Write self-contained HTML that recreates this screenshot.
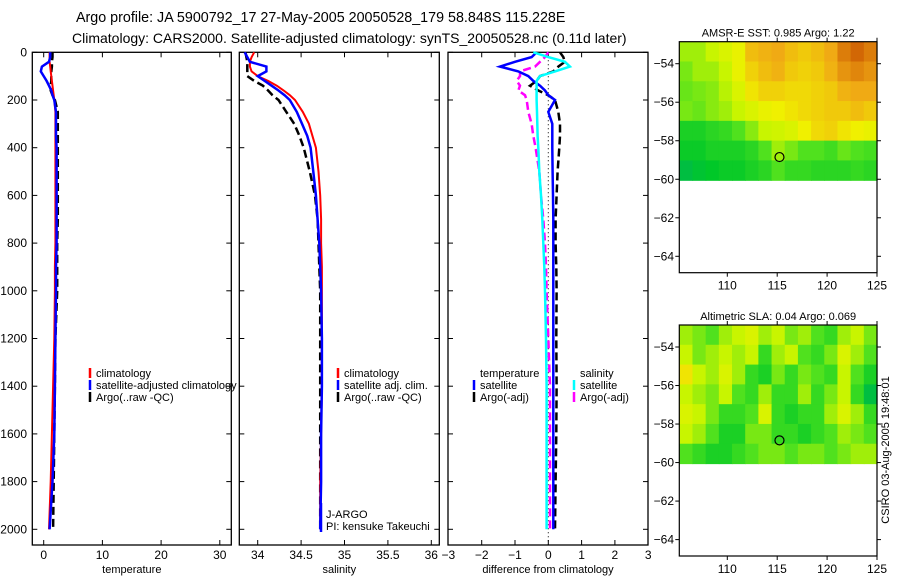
<!DOCTYPE html>
<html><head><meta charset="utf-8"><style>
body{margin:0;background:#fff;width:900px;height:580px;overflow:hidden}
svg{font-family:"Liberation Sans",sans-serif}
text{fill:#000}
</style></head><body>
<svg id="c" width="900" height="580" viewBox="0 0 900 580">
<text x="76" y="22" font-size="14.3">Argo profile: JA 5900792_17 27-May-2005 20050528_179 58.848S 115.228E</text>
<text x="72" y="43" font-size="14">Climatology: CARS2000. Satellite-adjusted climatology: synTS_20050528.nc (0.11d later)</text>
<g id="g"></g>
</svg>
<script>
const depths=[0,20,40,60,80,100,120,140,160,180,200,250,300,350,400,500,600,700,800,900,1000,1200,1400,1600,1800,2000];
const tempClim=[1.0,1.0,1.0,1.1,1.2,1.3,1.4,1.5,1.6,1.7,1.8,2.0,2.0,2.0,2.0,2.0,2.0,2.0,2.0,1.9,1.9,1.8,1.6,1.4,1.2,0.9];
const tempSat=[1.1,1.1,0.9,-0.3,-0.5,0.0,0.5,0.9,1.3,1.5,1.8,2.1,2.1,2.1,2.2,2.2,2.2,2.2,2.2,2.1,2.1,2.0,1.9,1.8,1.5,1.0];
const tempArgo=[1.5,1.5,1.4,1.4,1.3,1.3,1.3,1.2,1.2,1.5,1.9,2.4,2.4,2.4,2.4,2.4,2.4,2.4,2.3,2.3,2.3,2.0,1.9,1.8,1.7,1.6];
const salClim=[33.96,33.93,33.91,33.91,33.93,34.0,34.12,34.22,34.3,34.37,34.43,34.52,34.59,34.63,34.67,34.7,34.72,34.73,34.73,34.74,34.74,34.74,34.74,34.73,34.72,34.72];
const salSat=[33.85,33.88,33.91,34.1,34.1,34.0,34.08,34.16,34.24,34.31,34.37,34.45,34.51,34.57,34.61,34.64,34.67,34.69,34.71,34.72,34.73,34.74,34.74,34.73,34.73,34.72];
const salArgo=[33.86,33.87,33.88,33.88,33.88,33.88,33.96,34.06,34.12,34.17,34.24,34.33,34.42,34.48,34.53,34.6,34.66,34.69,34.7,34.71,34.72,34.72,34.72,34.72,34.72,34.72];
const diffTempSat=[-0.35,-0.5,-1.0,-1.45,-0.9,-0.6,-0.45,-0.25,-0.1,0.0,0.2,0.0,0.12,0.12,0.12,0.13,0.14,0.15,0.15,0.15,0.15,0.15,0.15,0.15,0.15,0.15];
const diffTempArgo=[0.35,0.45,0.5,0.3,0.15,-0.25,-0.35,-0.55,-0.3,0.0,0.2,0.3,0.35,0.35,0.33,0.28,0.25,0.22,0.22,0.24,0.25,0.24,0.25,0.24,0.22,0.2];
const diffSalSat=[-0.45,0.0,0.5,0.65,0.2,-0.25,-0.35,-0.35,-0.35,-0.35,-0.35,-0.34,-0.33,-0.32,-0.3,-0.27,-0.22,-0.18,-0.15,-0.12,-0.1,-0.07,-0.05,-0.05,-0.05,-0.05];
const diffSalArgo=[0.0,-0.1,-0.25,-0.4,-0.85,-0.85,-0.95,-0.85,-0.9,-0.7,-0.65,-0.6,-0.5,-0.45,-0.38,-0.27,-0.22,-0.15,-0.1,-0.07,-0.05,0.0,0.05,0.05,0.05,0.05];
const depthTicks=[0,200,400,600,800,1000,1200,1400,1600,1800,2000];
const tempTicks=[0,10,20,30];
const salTicks=["34","34.5","35","35.5","36"];
const diffTicks=[-3,-2,-1,0,1,2,3];
const mapLonTicks=[110,115,120,125];
const mapLatTicks=[-54,-56,-58,-60,-62,-64];
const sstGrid=[
[0.45,0.45,0.5,0.55,0.6,0.75,0.78,0.8,0.75,0.72,0.75,0.8,0.9,0.95,0.9],
[0.4,0.45,0.45,0.5,0.6,0.7,0.75,0.78,0.72,0.7,0.72,0.78,0.85,0.88,0.85],
[0.38,0.4,0.42,0.48,0.55,0.65,0.7,0.7,0.68,0.68,0.7,0.72,0.78,0.8,0.8],
[0.4,0.38,0.42,0.45,0.5,0.55,0.6,0.62,0.65,0.68,0.7,0.72,0.72,0.75,0.72],
[0.25,0.25,0.28,0.3,0.35,0.42,0.5,0.52,0.55,0.62,0.68,0.7,0.65,0.62,0.6],
[0.22,0.22,0.25,0.25,0.25,0.28,0.35,0.45,0.4,0.35,0.35,0.32,0.38,0.35,0.33],
[0.15,0.18,0.2,0.22,0.22,0.25,0.28,0.35,0.3,0.3,0.28,0.28,0.28,0.3,0.28]];
const slaGrid=[
[0.45,0.4,0.35,0.45,0.5,0.55,0.45,0.5,0.4,0.45,0.35,0.3,0.45,0.5,0.4],
[0.5,0.4,0.45,0.5,0.45,0.5,0.3,0.45,0.5,0.35,0.3,0.4,0.55,0.45,0.35],
[0.65,0.5,0.45,0.55,0.45,0.3,0.25,0.4,0.3,0.4,0.35,0.3,0.5,0.35,0.25],
[0.5,0.45,0.4,0.5,0.35,0.3,0.45,0.3,0.3,0.45,0.3,0.4,0.5,0.3,0.15],
[0.55,0.5,0.4,0.3,0.3,0.35,0.55,0.3,0.25,0.3,0.3,0.45,0.55,0.45,0.3],
[0.5,0.45,0.35,0.25,0.25,0.4,0.4,0.3,0.3,0.25,0.3,0.35,0.45,0.4,0.35],
[0.35,0.3,0.25,0.25,0.3,0.35,0.4,0.4,0.35,0.4,0.4,0.35,0.4,0.45,0.45]];
const floatLon=115.228, floatLat=-58.848;

const NS='http://www.w3.org/2000/svg';
const G=document.getElementById('g');
function mk(tag,attrs,parent){const e=document.createElementNS(NS,tag);for(const k in attrs)e.setAttribute(k,attrs[k]);(parent||G).appendChild(e);return e;}
function txt(s,attrs){const e=mk('text',attrs);e.textContent=s;return e;}
const yD=d=>52.3+d*0.2385;
const TOP=52.3,BOT=545;

const panels=[
 {name:'temperature',x0:32.3,x1:231.3,fx:v=>43.7+v*5.87,ticks:tempTicks,label:'temperature'},
 {name:'salinity',x0:239.3,x1:439.3,fx:v=>257.7+(v-34)*86.8,ticks:salTicks,label:'salinity'},
 {name:'difference',x0:448,x1:648,fx:v=>548.3+v*33.3,ticks:diffTicks,label:'difference from climatology'}];

panels.forEach((p,i)=>{
 const r=mk('rect',{x:p.x0,y:TOP,width:p.x1-p.x0,height:BOT-TOP,fill:'none',stroke:'#000','stroke-width':1.3});
 
 
 p.ticks.forEach(t=>{const x=p.fx(+t);
  if(x>p.x0+2&&x<p.x1-1){mk('line',{x1:x,x2:x,y1:TOP,y2:TOP+5,stroke:'#000'});mk('line',{x1:x,x2:x,y1:BOT,y2:BOT-5,stroke:'#000'});}
  const tl=txt(String(t).replace('-','\u2212'),{x:x,y:559,'font-size':12,'text-anchor':'middle'});
  
  
 });
 depthTicks.forEach(d=>{const y=yD(d);
  mk('line',{x1:p.x0,x2:p.x0+5,y1:y,y2:y,stroke:'#000'});mk('line',{x1:p.x1,x2:p.x1-5,y1:y,y2:y,stroke:'#000'});
  if(i===0){const tl=txt(String(d),{x:27,y:y+4,'font-size':12,'text-anchor':'end'});
   
   }
 });
 const at=txt(p.label,{x:(p.x0+p.x1)/2,y:573,'font-size':11,'text-anchor':'middle'});
 
 
});
mk('line',{x1:548.3,x2:548.3,y1:TOP,y2:BOT,stroke:'#000','stroke-dasharray':'1,3'});

function series(p,vals,color,w,dash,name){
 const pts=vals.map((v,i)=>p.fx(v).toFixed(1)+','+yD(depths[i]).toFixed(1)).join(' ');
 const a={points:pts,fill:'none',stroke:color,'stroke-width':w};
 if(dash)a['stroke-dasharray']=dash;
 const e=mk('polyline',a);
 
 
}
series(panels[0],tempArgo,'#000',2.5,'8,4','temp-argo-line');
series(panels[0],tempClim,'#f00',2,null,'temp-climatology-line');
series(panels[0],tempSat,'#00f',2.5,null,'temp-satellite-line');
series(panels[1],salArgo,'#000',2.5,'8,4','sal-argo-line');
series(panels[1],salClim,'#f00',2,null,'sal-climatology-line');
series(panels[1],salSat,'#00f',2.5,null,'sal-satellite-line');
series(panels[2],diffTempArgo,'#000',2.5,'8,4','diff-temp-argo-line');
series(panels[2],diffSalArgo,'#f0f',2.5,'8,4','diff-sal-argo-line');
series(panels[2],diffTempSat,'#00f',2.5,null,'diff-temp-satellite-line');
series(panels[2],diffSalSat,'#0ff',2.5,null,'diff-sal-satellite-line');

function legend(x,y,items,name){
 items.forEach((it,i)=>{const yy=y+i*12;
  if(it[1]){mk('line',{x1:x,x2:x,y1:yy-9,y2:yy+1,stroke:it[1],'stroke-width':2.5});}
  const t=txt(it[0],{x:x+6,y:yy,'font-size':11});
  
  
 });
}
legend(90,377,[['climatology','#f00'],['satellite-adjusted climatology','#00f'],['Argo(..raw -QC)','#000']],'temp-legend');
legend(338,377,[['climatology','#f00'],['satellite adj. clim.','#00f'],['Argo(..raw -QC)','#000']],'sal-legend');
legend(474,377,[['temperature',null],['satellite','#00f'],['Argo(-adj)','#000']],'diff-temp-legend');
legend(574,377,[['salinity',null],['satellite','#0ff'],['Argo(-adj)','#f0f']],'diff-sal-legend');
mk('line',{x1:321,x2:321,y1:503,y2:532,stroke:'#00f','stroke-width':2.5});
const j1=txt('J-ARGO',{x:326,y:518,'font-size':11});


const j2=txt('PI: kensuke Takeuchi',{x:326,y:530,'font-size':11});



function cmap(v){
 const stops=[[0,[0,160,140]],[0.2,[0,200,40]],[0.35,[80,225,30]],[0.5,[200,245,0]],[0.62,[240,240,0]],[0.8,[240,170,20]],[1,[200,80,0]]];
 for(let i=1;i<stops.length;i++){if(v<=stops[i][0]){const a=stops[i-1],b=stops[i],t=(v-a[0])/(b[0]-a[0]);
  return 'rgb('+a[1].map((c,k)=>Math.round(c+(b[1][k]-c)*t)).join(',')+')';}}
 return 'rgb(200,80,0)';
}
function drawMap(oy,grid,title,name){
 const x0=679.3,x1=877,y0=41.7+oy,y1=272.7+oy;
 const fx=lon=>727.3+(lon-110)*9.98;
 const fy=lat=>63.7+oy+(-54-lat)*19.26;
 const rows=grid.length,cols=grid[0].length;
 const yb=fy(-60.05);
 grid.forEach((row,r)=>row.forEach((v,c)=>{
  const cx=x0+c*(x1-x0)/cols,cy=y0+r*(yb-y0)/rows;
  const e=mk('rect',{x:cx.toFixed(2),y:cy.toFixed(2),width:((x1-x0)/cols+0.6).toFixed(2),height:((yb-y0)/rows+0.6).toFixed(2),fill:cmap(v)});
  
  
 }));
 const f=mk('rect',{x:x0,y:y0,width:x1-x0,height:y1-y0,fill:'none',stroke:'#000','stroke-width':1.2});
 
 
 mapLonTicks.forEach(l=>{const x=fx(l);
  mk('line',{x1:x,x2:x,y1:y0,y2:y0-4,stroke:'#000'});mk('line',{x1:x,x2:x,y1:y1,y2:y1+4,stroke:'#000'});
  const t=txt(String(l),{x:x,y:y1+17,'font-size':12,'text-anchor':'middle'});
  
  });
 mapLatTicks.forEach(l=>{const y=fy(l);
  mk('line',{x1:x0,x2:x0-4,y1:y,y2:y,stroke:'#000'});mk('line',{x1:x1,x2:x1+4,y1:y,y2:y,stroke:'#000'});
  const t=txt(String(l).replace('-','\u2212'),{x:674,y:y+4,'font-size':12,'text-anchor':'end'});
  
  });
 const c=mk('circle',{cx:fx(floatLon),cy:fy(floatLat),r:4.5,fill:'none',stroke:'#000','stroke-width':1.2});
 
 
 const t=txt(title,{x:(x0+x1)/2,y:y0-5,'font-size':11,'text-anchor':'middle'});
 
 
}
drawMap(0,sstGrid,'AMSR-E SST: 0.985 Argo: 1.22','sst-map');
drawMap(283.3,slaGrid,'Altimetric SLA: 0.04 Argo: 0.069','sla-map');
const st=txt('CSIRO 03-Aug-2005 19:48:01',{x:0,y:0,'font-size':11,'text-anchor':'middle',transform:'translate(889,450) rotate(-90)'});


</script>
</body></html>
